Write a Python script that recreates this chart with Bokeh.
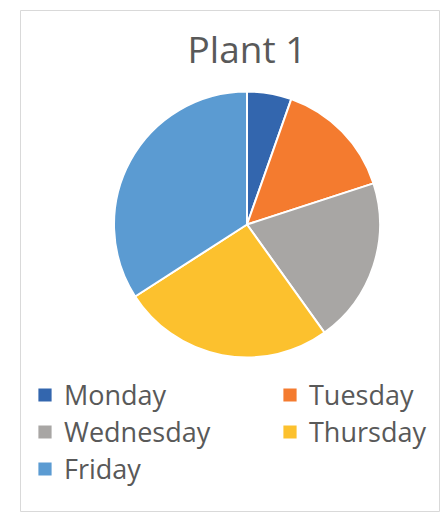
import numpy as np
from bokeh.plotting import figure
from bokeh.models import ColumnDataSource, Range1d, Legend, LegendItem
from bokeh.core.properties import value
from bokeh.embed import file_html
from bokeh.resources import INLINE

chart_title = "Plant 1"
days = ["Monday", "Tuesday", "Wednesday", "Thursday", "Friday"]
shares = [5.4, 14.6, 20.1, 25.8, 34.1]
colors = ["#3366AE", "#F47B2F", "#A8A6A4", "#FCC12E", "#5B9BD2"]

vals = np.array(shares, dtype=float)
frac = vals / vals.sum()
cum = np.cumsum(frac)
start = np.pi / 2 - 2 * np.pi * cum
end = np.pi / 2 - 2 * np.pi * (cum - frac)

src = ColumnDataSource(dict(day=days, start=start, end=end, color=colors))

p = figure(width=440, height=512, output_backend="svg", toolbar_location=None,
           x_range=Range1d(0, 420), y_range=Range1d(0, 502),
           x_axis_location=None, y_axis_location=None,
           min_border_left=20, min_border_right=0, min_border_top=10, min_border_bottom=0)
p.grid.visible = False
p.outline_line_color = "#D9D9D9"
p.outline_line_width = 1
p.background_fill_color = "white"
p.border_fill_color = "white"

cx, cy, R = 226.5, 288, 133
r = p.wedge(x=cx, y=cy, radius=R, start_angle="start", end_angle="end",
            fill_color="color", line_color="white", line_width=2, source=src)

p.text(x=[cx], y=[464], text=[chart_title], text_align="center", text_baseline="alphabetic",
       text_font=value("Open Sans"), text_font_size="37px", text_color="#595959")

common = dict(orientation="vertical", padding=0, margin=0, spacing=0,
              glyph_width=19, glyph_height=19, label_standoff=10,
              label_text_font="Open Sans", label_text_font_size="27px",
              label_text_color="#595959", border_line_color=None, background_fill_alpha=0)
left_items = [LegendItem(label=days[i], renderers=[r], index=i) for i in (0, 2, 4)]
right_items = [LegendItem(label=days[i], renderers=[r], index=i) for i in (1, 3)]
p.add_layout(Legend(items=left_items, location=(15, 25), **common))
p.add_layout(Legend(items=right_items, location=(260, 62), **common))

open("out.html", "w").write(file_html(p, INLINE))
